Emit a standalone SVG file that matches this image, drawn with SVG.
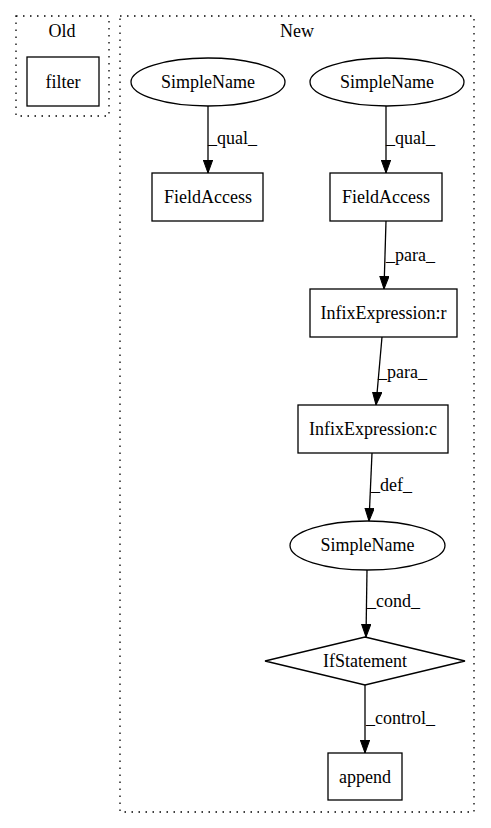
<svg xmlns="http://www.w3.org/2000/svg" width="491" height="828" viewBox="0 0 491 828">
<defs>
<marker id="ah" markerWidth="14" markerHeight="10" refX="13" refY="4.7" orient="auto" markerUnits="userSpaceOnUse">
<path d="M0,0 L13,4.7 L0,9.4 z" fill="#000" stroke="#000" stroke-width="1"/>
</marker>
</defs>
<style>
text{font-family:"Liberation Serif","Times New Roman",serif;font-size:18px;fill:#000}
.c{fill:none;stroke:#000;stroke-width:1.3;stroke-dasharray:1.5,5.5}
.n{fill:#fff;stroke:#000;stroke-width:1.3}
.e{fill:none;stroke:#000;stroke-width:1.3;marker-end:url(#ah)}
.m{text-anchor:middle}
</style>
<rect width="491" height="828" fill="#fff"/>
<g id="cluster_old">
<rect class="c" x="16" y="16" width="93" height="100"/>
<text class="m" x="62" y="37">Old</text>
</g>
<g id="cluster_new">
<rect class="c" x="120" y="16" width="354" height="796"/>
<text class="m" x="297" y="37">New</text>
</g>
<g id="connectors">
<path class="e" d="M208,106 L208,173"/>
<text x="208" y="144">_qual_</text>
<path class="e" d="M386,106 L386,173"/>
<text x="386" y="144">_qual_</text>
<path class="e" d="M386,221 L384,289"/>
<text x="386" y="261">_para_</text>
<path class="e" d="M382,337 L376,405"/>
<text x="378" y="378">_para_</text>
<path class="e" d="M372,453 L369,521"/>
<text x="371" y="491">_def_</text>
<path class="e" d="M367,570 L366,637"/>
<text x="367" y="607">_cond_</text>
<path class="e" d="M365,685 L365,753"/>
<text x="366" y="724">_control_</text>
</g>
<g id="filter">
<rect class="n" x="27" y="57" width="72" height="49"/>
<text class="m" x="63" y="88">filter</text>
</g>
<g id="simplename1">
<ellipse class="n" cx="208" cy="82" rx="77" ry="24"/>
<text class="m" x="208" y="88">SimpleName</text>
</g>
<g id="simplename2">
<ellipse class="n" cx="387" cy="82" rx="77" ry="24"/>
<text class="m" x="387" y="88">SimpleName</text>
</g>
<g id="fieldaccess1">
<rect class="n" x="152" y="173" width="111" height="48"/>
<text class="m" x="208" y="203">FieldAccess</text>
</g>
<g id="fieldaccess2">
<rect class="n" x="330" y="173" width="112" height="48"/>
<text class="m" x="386" y="203">FieldAccess</text>
</g>
<g id="infix_r">
<rect class="n" x="310" y="289" width="147" height="48"/>
<text class="m" x="383.5" y="319">InfixExpression:r</text>
</g>
<g id="infix_c">
<rect class="n" x="298" y="405" width="150" height="48"/>
<text class="m" x="373" y="435">InfixExpression:c</text>
</g>
<g id="simplename3">
<ellipse class="n" cx="367.5" cy="545.5" rx="77.5" ry="24.5"/>
<text class="m" x="367.5" y="551">SimpleName</text>
</g>
<g id="ifstatement">
<polygon class="n" points="365,637 465,661 365,685 265,661"/>
<text class="m" x="365" y="667">IfStatement</text>
</g>
<g id="append">
<rect class="n" x="328" y="753" width="74" height="47"/>
<text class="m" x="365" y="783">append</text>
</g>
</svg>
